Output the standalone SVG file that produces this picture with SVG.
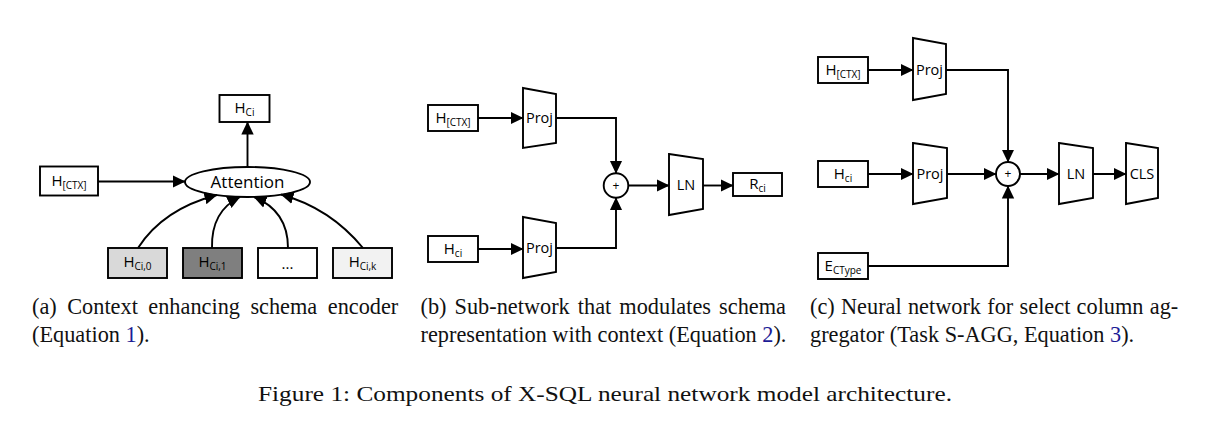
<svg xmlns="http://www.w3.org/2000/svg" width="1210" height="442" viewBox="0 0 1210 442">
<style>
.box{fill:#fff;stroke:#000;stroke-width:1.9}
.trap{fill:#fff;stroke:#000;stroke-width:1.9;stroke-linejoin:miter}
.lbl{font-family:"Open Sans","Noto Sans",sans-serif;font-size:15px;fill:#000;text-anchor:middle}
.sub{font-size:10px}
.blk{font-family:"Open Sans","Noto Sans",sans-serif;font-size:14.5px;fill:#000;text-anchor:middle}
.con{fill:none;stroke:#000;stroke-width:1.9}
.cap{font-family:"Liberation Serif","Times New Roman",serif;font-size:22.3px;fill:#111}
.ref{fill:#1c1c96}
</style>
<defs>
<marker id="arr" markerUnits="userSpaceOnUse" markerWidth="14" markerHeight="14" refX="12.5" refY="7" orient="auto">
<path d="M0,0.8 L13,7 L0,13.2 z" fill="#000"/>
</marker>
</defs>
<rect width="1210" height="442" fill="#fff"/>

<!-- Panel (a) -->
<g id="a-hci-out"><rect class="box" x="219.5" y="95" width="50" height="27"/><text class="lbl" x="244.5" y="113">H<tspan class="sub" dy="3">Ci</tspan></text></g>
<g id="a-hctx"><rect class="box" x="40" y="166.5" width="58" height="29"/><text class="lbl" x="69" y="186">H<tspan class="sub" dy="3">[CTX]</tspan></text></g>
<g id="a-attention"><ellipse cx="247.5" cy="182" rx="62.5" ry="15" fill="#fff" stroke="#000" stroke-width="1.9"/><text x="247.5" y="188" style="font-family:'Open Sans','Noto Sans',sans-serif;font-size:17px;text-anchor:middle">Attention</text></g>
<g id="a-hci0"><rect x="108" y="248" width="59" height="30" fill="#d9d9d9" stroke="#000" stroke-width="1.9"/><text class="lbl" x="137.5" y="267">H<tspan class="sub" dy="3">Ci,0</tspan></text></g>
<g id="a-hci1"><rect x="183" y="248" width="59" height="30" fill="#7f7f7f" stroke="#000" stroke-width="1.9"/><text class="lbl" x="212.5" y="267">H<tspan class="sub" dy="3">Ci,1</tspan></text></g>
<g id="a-dots"><rect class="box" x="258" y="248" width="59" height="30"/><text class="lbl" x="287.5" y="269">...</text></g>
<g id="a-hcik"><rect x="333" y="248" width="59" height="30" fill="#f2f2f2" stroke="#000" stroke-width="1.9"/><text class="lbl" x="362.5" y="267">H<tspan class="sub" dy="3">Ci,k</tspan></text></g>

<!-- Panel (b) -->
<g id="b-hctx"><rect class="box" x="428" y="105" width="50" height="26"/><text class="lbl" x="453" y="122.5">H<tspan class="sub" dy="3">[CTX]</tspan></text></g>
<g id="b-proj1"><polygon class="trap" points="523,88 556,94 556,143 523,148"/><text class="blk" x="539.5" y="123">Proj</text></g>
<g id="b-hci"><rect class="box" x="428" y="236" width="50" height="26"/><text class="lbl" x="453" y="253.5">H<tspan class="sub" dy="3">ci</tspan></text></g>
<g id="b-proj2"><polygon class="trap" points="523,217 556,223 556,272 523,278"/><text class="blk" x="539.5" y="252.5">Proj</text></g>
<g id="b-plus"><circle cx="616" cy="185.5" r="12.3" fill="#fff" stroke="#000" stroke-width="1.9"/><text x="616" y="189.8" style="font-family:'Open Sans',sans-serif;font-size:12px;text-anchor:middle">+</text></g>
<g id="b-ln"><polygon class="trap" points="669,154 703,159 703,209 669,215"/><text class="blk" x="686" y="190">LN</text></g>
<g id="b-rci"><rect class="box" x="733" y="173" width="49" height="23"/><text class="lbl" x="757.5" y="188.5">R<tspan class="sub" dy="3">ci</tspan></text></g>

<!-- Panel (c) -->
<g id="c-hctx"><rect class="box" x="818" y="57" width="50" height="26"/><text class="lbl" x="843" y="74.5">H<tspan class="sub" dy="3">[CTX]</tspan></text></g>
<g id="c-proj1"><polygon class="trap" points="913,38 946,44 946,94 913,100"/><text class="blk" x="929.5" y="74.5">Proj</text></g>
<g id="c-hci"><rect class="box" x="818" y="161" width="50" height="26"/><text class="lbl" x="843" y="178.5">H<tspan class="sub" dy="3">ci</tspan></text></g>
<g id="c-proj2"><polygon class="trap" points="913,143 947,148 947,198 913,204"/><text class="blk" x="930" y="178.5">Proj</text></g>
<g id="c-ectype"><rect class="box" x="818" y="253" width="50" height="26"/><text class="lbl" x="843" y="270.5">E<tspan class="sub" dy="3">CType</tspan></text></g>
<g id="c-plus"><circle cx="1008" cy="174" r="12" fill="#fff" stroke="#000" stroke-width="1.9"/><text x="1008" y="178.3" style="font-family:'Open Sans',sans-serif;font-size:12px;text-anchor:middle">+</text></g>
<g id="c-ln"><polygon class="trap" points="1059,143 1093,148 1093,198 1059,204"/><text class="blk" x="1076" y="179">LN</text></g>
<g id="c-cls"><polygon class="trap" points="1126,143 1158,148 1158,198 1126,204"/><text class="blk" x="1142" y="179">CLS</text></g>

<g id="connectors">
<path class="con" d="M247.5,167 L247.5,122" marker-end="url(#arr)"/>
<path class="con" d="M98,181.5 L185,181.5" marker-end="url(#arr)"/>
<path class="con" d="M138,248 Q163,209 217,195" marker-end="url(#arr)"/>
<path class="con" d="M212,248 Q211,211 240,197" marker-end="url(#arr)"/>
<path class="con" d="M288,248 Q288,211 254,197" marker-end="url(#arr)"/>
<path class="con" d="M363,248 Q330,208 281,194.5" marker-end="url(#arr)"/>

<path class="con" d="M478,118 L523,118" marker-end="url(#arr)"/>
<path class="con" d="M556,118 L616,118 L616,173.2" marker-end="url(#arr)"/>
<path class="con" d="M478,249 L523,249" marker-end="url(#arr)"/>
<path class="con" d="M556,248 L616,248 L616,197.8" marker-end="url(#arr)"/>
<path class="con" d="M628.3,185.5 L669,185.5" marker-end="url(#arr)"/>
<path class="con" d="M703,185.5 L733,185.5" marker-end="url(#arr)"/>

<path class="con" d="M868,70 L913,70" marker-end="url(#arr)"/>
<path class="con" d="M946,70 L1008,70 L1008,162" marker-end="url(#arr)"/>
<path class="con" d="M868,174 L913,174" marker-end="url(#arr)"/>
<path class="con" d="M947,174 L996,174" marker-end="url(#arr)"/>
<path class="con" d="M868,266 L1008,266 L1008,186" marker-end="url(#arr)"/>
<path class="con" d="M1020,174 L1059,174" marker-end="url(#arr)"/>
<path class="con" d="M1093,174 L1126,174" marker-end="url(#arr)"/>
</g>

<g id="captions">
<text class="cap" x="32" y="314" style="word-spacing:4.9px">(a) Context enhancing schema encoder</text>
<text class="cap" x="32" y="342">(Equation <tspan class="ref">1</tspan>).</text>
<text class="cap" x="420.5" y="314" style="word-spacing:2.5px">(b) Sub-network that modulates schema</text>
<text class="cap" x="420.5" y="342">representation with context (Equation <tspan class="ref">2</tspan>).</text>
<text class="cap" x="810" y="314" style="word-spacing:0.7px">(c) Neural network for select column ag-</text>
<text class="cap" x="810" y="342">gregator (Task S-AGG, Equation <tspan class="ref">3</tspan>).</text>
<text x="258" y="401" textLength="694" lengthAdjust="spacingAndGlyphs" style="font-family:'Liberation Serif','Times New Roman',serif;font-size:21px;fill:#111">Figure 1: Components of X-SQL neural network model architecture.</text>
</g>
</svg>
